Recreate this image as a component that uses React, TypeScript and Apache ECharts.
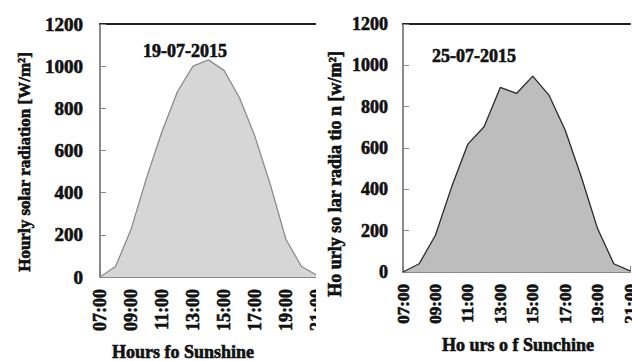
import React, { useEffect, useRef } from "react";
import * as echarts from "echarts";

// Hourly readings from 07:00 to 21:00
const hours = [
  "07:00", "08:00", "09:00", "10:00", "11:00", "12:00", "13:00", "14:00",
  "15:00", "16:00", "17:00", "18:00", "19:00", "20:00", "21:00",
];
const radiationJul19 = [0, 50, 225, 470, 690, 880, 1000, 1030, 980, 850, 666, 435, 178, 50, 8];
const radiationJul25 = [0, 40, 178, 412, 619, 703, 893, 864, 948, 856, 687, 460, 210, 40, 5];
const yTicks = { min: 0, max: 1200, interval: 200 };

const FONT = "Liberation Serif";
const INK = "#111";

type PanelCfg = {
  data: number[];
  date: string;
  dateLeft: number;
  dateTop: number;
  xName: string;
  xNameLeft: number;
  xNameTop: number;
  yName: string;
  yNameX: number;
  yNameY: number;
  gridLeft: number;
  gridTop: number;
  gridWidth: number;
  gridHeight: number;
  lineColor: string;
  fillColor: string;
  labelSize: number;
  tickLabelSize: number;
  yLabelMargin: number;
  yNameSize: number;
};

function buildOption(c: PanelCfg): echarts.EChartsOption {
  // heavy bold serif lettering, thickened with a thin outline of the same ink
  const boldText = {
    fontFamily: FONT,
    fontWeight: "bold" as const,
    color: INK,
    textBorderColor: INK,
    textBorderWidth: 0.6,
  };
  return {
    animation: false,
    backgroundColor: "#fff",
    textStyle: { fontFamily: FONT, fontWeight: "bold", color: INK },
    title: [
      {
        text: c.date,
        left: c.dateLeft,
        top: c.dateTop,
        textStyle: { ...boldText, fontSize: 18 },
      },
      {
        text: c.xName,
        left: c.xNameLeft,
        top: c.xNameTop,
        textStyle: { ...boldText, fontSize: 18 },
      },
    ],
    graphic: [
      {
        type: "text",
        x: c.yNameX,
        y: c.yNameY,
        rotation: Math.PI / 2,
        style: {
          text: c.yName,
          fontFamily: FONT,
          fontWeight: "bold",
          fontSize: c.yNameSize,
          fill: INK,
          stroke: INK,
          lineWidth: 0.6,
          textAlign: "center",
          textVerticalAlign: "middle",
        },
      },
    ],
    grid: {
      left: c.gridLeft,
      top: c.gridTop,
      width: c.gridWidth,
      height: c.gridHeight,
    },
    xAxis: [
      {
        type: "category",
        data: hours,
        boundaryGap: false,
        axisLine: { lineStyle: { color: "#8a8a8a", width: 2 } },
        axisTick: { inside: true, length: 6, interval: 0, lineStyle: { color: "#777", width: 1 } },
        axisLabel: {
          interval: 1,
          rotate: 90,
          margin: 12,
          ...boldText,
          fontSize: c.tickLabelSize,
        },
        splitLine: { show: false },
      },
      {
        type: "category",
        data: hours,
        position: "top",
        boundaryGap: false,
        axisLine: { lineStyle: { color: "#222", width: 2 } },
        axisTick: { show: false },
        axisLabel: { show: false },
      },
    ],
    yAxis: {
      type: "value",
      min: yTicks.min,
      max: yTicks.max,
      interval: yTicks.interval,
      axisLine: { show: true, lineStyle: { color: "#8a8a8a", width: 2 } },
      axisTick: { show: true, inside: true, length: 6, lineStyle: { color: "#888" } },
      axisLabel: {
        ...boldText,
        fontSize: c.labelSize,
        margin: c.yLabelMargin,
        formatter: (v: number) => String(v),
      },
      splitLine: { show: false },
    },
    series: [
      {
        type: "line",
        data: c.data,
        symbol: "none",
        lineStyle: { color: c.lineColor, width: 1.3 },
        areaStyle: { color: c.fillColor, opacity: 1 },
      },
    ],
  };
}

function Panel({ cfg, width, chartWidth }: { cfg: PanelCfg; width: number; chartWidth: number }) {
  const ref = useRef<HTMLDivElement>(null);
  useEffect(() => {
    if (!ref.current) return;
    const chart = echarts.init(ref.current, undefined, { renderer: "svg" });
    chart.setOption(buildOption(cfg));
    return () => chart.dispose();
  }, [cfg]);
  return (
    <div style={{ width, height: 361, overflow: "hidden", position: "relative", flex: "none" }}>
      <div ref={ref} style={{ width: chartWidth, height: 361 }} />
    </div>
  );
}

const leftCfg: PanelCfg = {
  data: radiationJul19,
  date: "19-07-2015",
  dateLeft: 138,
  dateTop: 37,
  xName: "Hours fo Sunshine",
  xNameLeft: 107,
  xNameTop: 338,
  yName: "Hourly solar radiation [W/m²]",
  yNameX: 24,
  yNameY: 162,
  gridLeft: 100,
  gridTop: 24,
  gridWidth: 217,
  gridHeight: 253,
  lineColor: "#8c8c8c",
  fillColor: "#d6d6d6",
  labelSize: 19,
  tickLabelSize: 18,
  yLabelMargin: 17,
  yNameSize: 17,
};

const rightCfg: PanelCfg = {
  data: radiationJul25,
  date: "25-07-2015",
  dateLeft: 111,
  dateTop: 42,
  xName: "Ho urs o f Sunchine",
  xNameLeft: 121,
  xNameTop: 331,
  yName: "Ho urly so lar radia tio n [w/m²]",
  yNameX: 19,
  yNameY: 174,
  gridLeft: 87,
  gridTop: 24,
  gridWidth: 227,
  gridHeight: 248,
  lineColor: "#2a2a2a",
  fillColor: "#bdbdbd",
  labelSize: 18,
  tickLabelSize: 17,
  yLabelMargin: 15,
  yNameSize: 18,
};

export default function App() {
  return (
    <div
      style={{
        position: "fixed",
        left: 0,
        top: 0,
        width: 632,
        height: 361,
        display: "flex",
        background: "#fff",
        overflow: "hidden",
      }}
    >
      <Panel cfg={leftCfg} width={316} chartWidth={345} />
      <Panel cfg={rightCfg} width={316} chartWidth={345} />
    </div>
  );
}
